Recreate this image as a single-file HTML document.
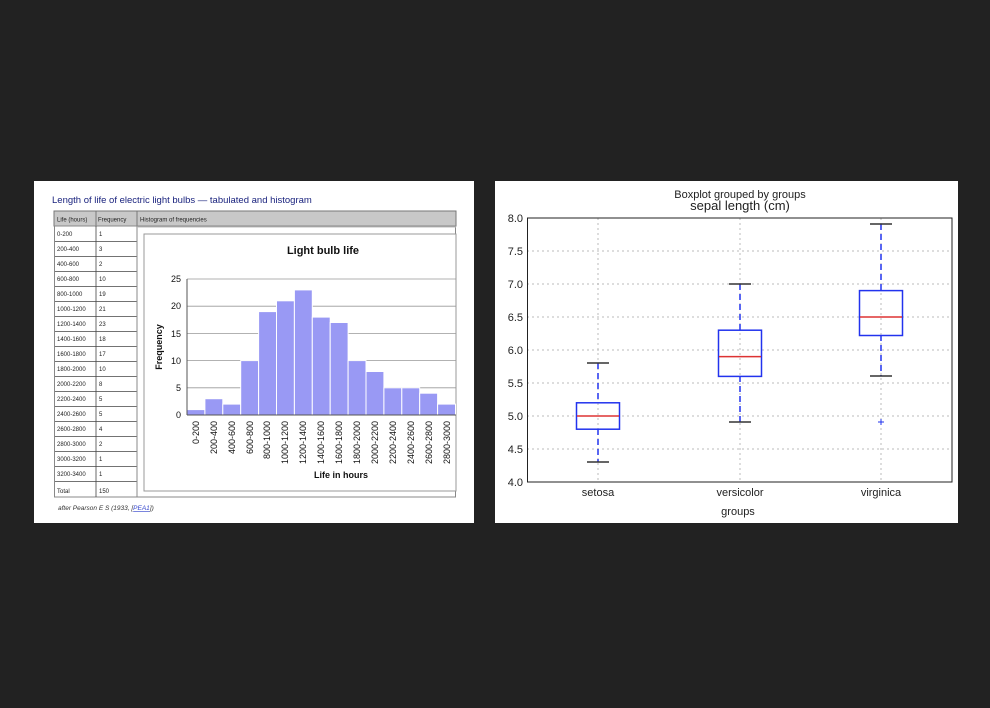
<!DOCTYPE html>
<html><head><meta charset="utf-8"><style>
html,body{margin:0;padding:0;background:#222222;}
svg{display:block;}
text{font-family:"Liberation Sans","DejaVu Sans",sans-serif;}
</style></head><body>
<svg width="990" height="708" viewBox="0 0 990 708" xmlns="http://www.w3.org/2000/svg">
<rect width="990" height="708" fill="#222222"/>
<!-- LEFT PANEL -->
<rect x="34" y="181" width="440" height="342" fill="#ffffff"/>
<text x="52" y="203" font-size="9.5" fill="#1a237e">Length of life of electric light bulbs — tabulated and histogram</text>
<!-- table -->
<rect x="54" y="211" width="402" height="15" fill="#c8c8c8" stroke="#777" stroke-width="1"/>
<text x="57" y="221.5" font-size="6" fill="#222">Life (hours)</text>
<text x="98" y="221.5" font-size="6" fill="#222">Frequency</text>
<text x="140" y="221.5" font-size="6" fill="#222">Histogram of frequencies</text>
<line x1="96" y1="211" x2="96" y2="226" stroke="#777"/>
<line x1="137" y1="211" x2="137" y2="226" stroke="#777"/>
<g font-size="6" fill="#222">
<text x="57" y="236">0-200</text><text x="99" y="236">1</text>
<text x="57" y="251">200-400</text><text x="99" y="251">3</text>
<text x="57" y="266">400-600</text><text x="99" y="266">2</text>
<text x="57" y="281">600-800</text><text x="99" y="281">10</text>
<text x="57" y="296">800-1000</text><text x="99" y="296">19</text>
<text x="57" y="311">1000-1200</text><text x="99" y="311">21</text>
<text x="57" y="326">1200-1400</text><text x="99" y="326">23</text>
<text x="57" y="341">1400-1600</text><text x="99" y="341">18</text>
<text x="57" y="356">1600-1800</text><text x="99" y="356">17</text>
<text x="57" y="371">1800-2000</text><text x="99" y="371">10</text>
<text x="57" y="386">2000-2200</text><text x="99" y="386">8</text>
<text x="57" y="401">2200-2400</text><text x="99" y="401">5</text>
<text x="57" y="416">2400-2600</text><text x="99" y="416">5</text>
<text x="57" y="431">2600-2800</text><text x="99" y="431">4</text>
<text x="57" y="446">2800-3000</text><text x="99" y="446">2</text>
<text x="57" y="461">3000-3200</text><text x="99" y="461">1</text>
<text x="57" y="476">3200-3400</text><text x="99" y="476">1</text>
<text x="57" y="493">Total</text><text x="99" y="493">150</text>
</g>
<g stroke="#444" stroke-width="0.8">
<line x1="54" y1="241.5" x2="137" y2="241.5"/><line x1="54" y1="256.5" x2="137" y2="256.5"/>
<line x1="54" y1="271.5" x2="137" y2="271.5"/><line x1="54" y1="286.5" x2="137" y2="286.5"/>
<line x1="54" y1="301.5" x2="137" y2="301.5"/><line x1="54" y1="316.5" x2="137" y2="316.5"/>
<line x1="54" y1="331.5" x2="137" y2="331.5"/><line x1="54" y1="346.5" x2="137" y2="346.5"/>
<line x1="54" y1="361.5" x2="137" y2="361.5"/><line x1="54" y1="376.5" x2="137" y2="376.5"/>
<line x1="54" y1="391.5" x2="137" y2="391.5"/><line x1="54" y1="406.5" x2="137" y2="406.5"/>
<line x1="54" y1="421.5" x2="137" y2="421.5"/><line x1="54" y1="436.5" x2="137" y2="436.5"/>
<line x1="54" y1="451.5" x2="137" y2="451.5"/><line x1="54" y1="466.5" x2="137" y2="466.5"/>
<line x1="54" y1="481.5" x2="137" y2="481.5"/>
</g>
<rect x="54.5" y="226" width="401" height="271" fill="none" stroke="#888" stroke-width="1"/>
<line x1="96" y1="226" x2="96" y2="497" stroke="#444" stroke-width="0.8"/>
<line x1="137" y1="226" x2="137" y2="497" stroke="#888" stroke-width="1"/>
<line x1="137" y1="227" x2="456" y2="227" stroke="#bbb" stroke-width="1"/>
<rect x="144" y="234" width="312" height="257" fill="#fff" stroke="#999" stroke-width="1"/>
<text x="323" y="254" font-size="11" font-weight="bold" text-anchor="middle" fill="#111">Light bulb life</text>
<!-- grid -->
<g stroke="#999" stroke-width="0.8">
<line x1="187" y1="279" x2="456" y2="279"/><line x1="187" y1="306.2" x2="456" y2="306.2"/>
<line x1="187" y1="333.4" x2="456" y2="333.4"/><line x1="187" y1="360.6" x2="456" y2="360.6"/>
<line x1="187" y1="387.8" x2="456" y2="387.8"/>
</g>
<g fill="#9999f4" stroke="#ffffff" stroke-width="1">
<rect x="187" y="409.6" width="17.9" height="5.4"/>
<rect x="204.9" y="398.7" width="17.9" height="16.3"/>
<rect x="222.8" y="404.1" width="17.9" height="10.9"/>
<rect x="240.7" y="360.6" width="17.9" height="54.4"/>
<rect x="258.6" y="311.6" width="17.9" height="103.4"/>
<rect x="276.5" y="300.8" width="17.9" height="114.2"/>
<rect x="294.4" y="289.9" width="17.9" height="125.1"/>
<rect x="312.3" y="317.1" width="17.9" height="97.9"/>
<rect x="330.2" y="322.5" width="17.9" height="92.5"/>
<rect x="348.1" y="360.6" width="17.9" height="54.4"/>
<rect x="366" y="371.5" width="17.9" height="43.5"/>
<rect x="383.9" y="387.8" width="17.9" height="27.2"/>
<rect x="401.8" y="387.8" width="17.9" height="27.2"/>
<rect x="419.7" y="393.2" width="17.9" height="21.8"/>
<rect x="437.6" y="404.1" width="17.9" height="10.9"/>
</g>
<line x1="187" y1="279" x2="187" y2="415" stroke="#555" stroke-width="1"/>
<line x1="187" y1="415" x2="456" y2="415" stroke="#555" stroke-width="1"/>
<g font-size="9" text-anchor="end" fill="#111">
<text x="181" y="282">25</text><text x="181" y="309">20</text><text x="181" y="337">15</text>
<text x="181" y="364">10</text><text x="181" y="391">5</text><text x="181" y="418">0</text>
</g>
<text transform="translate(162,347) rotate(-90)" font-size="9" font-weight="bold" text-anchor="middle" fill="#111">Frequency</text>
<g font-size="9" text-anchor="end" fill="#111">
<text transform="translate(199,421) rotate(-90)">0-200</text>
<text transform="translate(217,421) rotate(-90)">200-400</text>
<text transform="translate(235,421) rotate(-90)">400-600</text>
<text transform="translate(253,421) rotate(-90)">600-800</text>
<text transform="translate(270,421) rotate(-90)">800-1000</text>
<text transform="translate(288,421) rotate(-90)">1000-1200</text>
<text transform="translate(306,421) rotate(-90)">1200-1400</text>
<text transform="translate(324,421) rotate(-90)">1400-1600</text>
<text transform="translate(342,421) rotate(-90)">1600-1800</text>
<text transform="translate(360,421) rotate(-90)">1800-2000</text>
<text transform="translate(378,421) rotate(-90)">2000-2200</text>
<text transform="translate(396,421) rotate(-90)">2200-2400</text>
<text transform="translate(414,421) rotate(-90)">2400-2600</text>
<text transform="translate(432,421) rotate(-90)">2600-2800</text>
<text transform="translate(450,421) rotate(-90)">2800-3000</text>
</g>
<text x="341" y="478" font-size="9" font-weight="bold" text-anchor="middle" fill="#111">Life in hours</text>
<text x="58" y="510" font-size="6.5" font-style="italic" fill="#333">after Pearson E S (1933, [<tspan fill="#3344cc" text-decoration="underline">PEA1</tspan>])</text>

<!-- RIGHT PANEL -->
<rect x="495" y="181" width="463" height="342" fill="#ffffff"/>
<text x="740" y="198" font-size="11" text-anchor="middle" fill="#222">Boxplot grouped by groups</text>
<text x="740" y="210" font-size="13" text-anchor="middle" fill="#222">sepal length (cm)</text>
<g stroke="#bbb" stroke-width="1" stroke-dasharray="2,3">
<line x1="527" y1="251" x2="952" y2="251"/><line x1="527" y1="284" x2="952" y2="284"/>
<line x1="527" y1="317" x2="952" y2="317"/><line x1="527" y1="350" x2="952" y2="350"/>
<line x1="527" y1="383" x2="952" y2="383"/><line x1="527" y1="416" x2="952" y2="416"/>
<line x1="527" y1="449" x2="952" y2="449"/>
<line x1="598" y1="218" x2="598" y2="482"/><line x1="740" y1="218" x2="740" y2="482"/>
<line x1="881" y1="218" x2="881" y2="482"/>
</g>
<!-- whiskers -->
<g stroke="#2233ee" stroke-width="1.5" stroke-dasharray="6,4">
<line x1="598" y1="363" x2="598" y2="402"/><line x1="598" y1="429" x2="598" y2="462"/>
<line x1="740" y1="284" x2="740" y2="330"/><line x1="740" y1="376" x2="740" y2="422"/>
<line x1="881" y1="224" x2="881" y2="290"/><line x1="881" y1="335" x2="881" y2="376"/>
</g>
<g stroke="#333" stroke-width="1.5">
<line x1="587" y1="363" x2="609" y2="363"/><line x1="587" y1="462" x2="609" y2="462"/>
<line x1="729" y1="284" x2="751" y2="284"/><line x1="729" y1="422" x2="751" y2="422"/>
<line x1="870" y1="224" x2="892" y2="224"/><line x1="870" y1="376" x2="892" y2="376"/>
</g>
<g fill="none" stroke="#2233ee" stroke-width="1.5">
<rect x="576.5" y="402.8" width="43" height="26.4"/>
<rect x="718.5" y="330.2" width="43" height="46.2"/>
<rect x="859.5" y="290.6" width="43" height="44.9"/>
</g>
<g stroke="#dd3333" stroke-width="1.5">
<line x1="577" y1="416" x2="619" y2="416"/>
<line x1="719" y1="356.6" x2="761" y2="356.6"/>
<line x1="860" y1="317" x2="902" y2="317"/>
</g>
<g stroke="#2233ee" stroke-width="1">
<line x1="878" y1="422" x2="884" y2="422"/><line x1="881" y1="419" x2="881" y2="425"/>
</g>
<rect x="527.5" y="218" width="424.5" height="264" fill="none" stroke="#222" stroke-width="1"/>
<g font-size="11" text-anchor="end" fill="#222">
<text x="523" y="222">8.0</text><text x="523" y="255">7.5</text><text x="523" y="288">7.0</text>
<text x="523" y="321">6.5</text><text x="523" y="354">6.0</text><text x="523" y="387">5.5</text>
<text x="523" y="420">5.0</text><text x="523" y="453">4.5</text><text x="523" y="486">4.0</text>
</g>
<g font-size="11" text-anchor="middle" fill="#222">
<text x="598" y="496">setosa</text><text x="740" y="496">versicolor</text><text x="881" y="496">virginica</text>
<text x="738" y="515">groups</text>
</g>
</svg>
</body></html>
